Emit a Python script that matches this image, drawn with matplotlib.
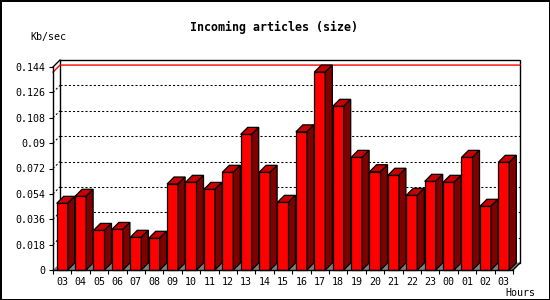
import matplotlib
matplotlib.use("Agg")
import matplotlib.pyplot as plt
from matplotlib.patches import Polygon, Rectangle

# ---- data ----
hours = ["03", "04", "05", "06", "07", "08", "09", "10", "11", "12", "13", "14", "15",
         "16", "17", "18", "19", "20", "21", "22", "23", "00", "01", "02", "03"]
values = [0.0473, 0.0523, 0.0281, 0.0288, 0.0232, 0.0225, 0.0610, 0.0622, 0.0572,
          0.0693, 0.0962, 0.0693, 0.0480, 0.0980, 0.1404, 0.1161, 0.0799, 0.0697,
          0.0672, 0.0530, 0.0629, 0.0622, 0.0799, 0.0452, 0.0764]
yticks = [0, 0.018, 0.036, 0.054, 0.072, 0.09, 0.108, 0.126, 0.144]
ytick_labels = ["0", "0.018", "0.036", "0.054", "0.072", "0.09", "0.108", "0.126", "0.144"]
title = "Incoming articles (size)"
ylabel = "Kb/sec"
xlabel = "Hours"

W, H = 550, 300
fig = plt.figure(figsize=(W / 100, H / 100), dpi=100)
fig.patch.set_facecolor("white")
fig.patch.set_edgecolor("black")
fig.patch.set_linewidth(2)

left_px, right_px, bottom_px, top_px = 53, 513, 270, 67
ax = fig.add_axes([left_px / W, (H - bottom_px) / H,
                   (right_px - left_px) / W, (bottom_px - top_px) / H])
n = len(values)
ymax = yticks[-1]
ax.set_xlim(-0.5, n - 0.5)
ax.set_ylim(0, ymax)
for s in ax.spines.values():
    s.set_visible(False)
ax.patch.set_visible(False)

slot_px = (right_px - left_px) / n
depth_px = 7
dx = depth_px / slot_px
dy = depth_px / (bottom_px - top_px) * ymax
x0, x1 = -0.5, n - 0.5

mono = "DejaVu Sans Mono"

# back plane
ax.add_patch(Rectangle((x0 + dx, dy), x1 - x0, ymax, facecolor="white",
                       edgecolor="black", lw=1, zorder=0, clip_on=False))
# gridlines on back plane + diagonal dotted connectors
for t in yticks[1:-1]:
    ax.plot([x0 + dx, x1 + dx], [t + dy, t + dy], color="black", lw=0.75,
            linestyle=(0, (2, 2)), zorder=1, clip_on=False)
    ax.plot([x0, x0 + dx], [t, t + dy], color="black", lw=0.75,
            linestyle=(0, (2, 2)), zorder=1, clip_on=False)
# floor
ax.add_patch(Polygon([(x0, 0), (x1, 0), (x1 + dx, dy), (x0 + dx, dy)],
                     closed=True, facecolor="#808080", edgecolor="none",
                     zorder=1.5, clip_on=False))
# max line
vmax = max(values)
ax.plot([x0, x0 + dx, x1 + dx], [vmax, vmax + dy, vmax + dy], color="red",
        lw=1, zorder=1.8, clip_on=False)

# bars
bw = 0.6
for i, v in enumerate(values):
    l, r = i - bw / 2, i + bw / 2
    z = 3 + i * 0.01
    ax.add_patch(Rectangle((l, 0), bw, v, facecolor="#FF0000", edgecolor="black",
                           lw=0.9, zorder=z, clip_on=False))
    ax.add_patch(Polygon([(l, v), (r, v), (r + dx, v + dy), (l + dx, v + dy)],
                         closed=True, facecolor="#C80000", edgecolor="black",
                         lw=0.9, zorder=z, clip_on=False))
    ax.add_patch(Polygon([(r, 0), (r, v), (r + dx, v + dy), (r + dx, dy)],
                         closed=True, facecolor="#800000", edgecolor="black",
                         lw=0.9, zorder=z, clip_on=False))

# front axes lines
ax.plot([x0, x0], [0, ymax], color="black", lw=1, zorder=5, clip_on=False)
ax.plot([x0, x1], [0, 0], color="black", lw=1, zorder=5, clip_on=False)
ax.plot([x0, x0 + dx], [ymax, ymax + dy], color="black", lw=1, zorder=5, clip_on=False)
ax.plot([x1, x1 + dx], [0, dy], color="black", lw=1, zorder=5, clip_on=False)

# ticks
ax.set_yticks(yticks)
ax.set_yticklabels(ytick_labels, family=mono, fontsize=7.2)
ax.tick_params(axis="y", direction="out", length=3, width=0.8, pad=2.5)
ax.set_xticks(range(n))
ax.set_xticklabels(hours, family=mono, fontsize=7.2)
ax.set_xticks([k - 0.5 for k in range(n + 1)], minor=True)
ax.tick_params(axis="x", which="major", length=0, pad=5)
ax.tick_params(axis="x", which="minor", direction="out", length=3, width=0.8)

fig.text(273.5 / W, 1 - 27 / H, title, ha="center", va="center",
         family=mono, fontweight="bold", fontsize=8.4)
fig.text(30 / W, 1 - 37 / H, ylabel, ha="left", va="center", family=mono, fontsize=7.2)
fig.text(505 / W, 1 - 292.5 / H, xlabel, ha="left", va="center", family=mono, fontsize=7.2)

fig.savefig("out.png", dpi=100, facecolor=fig.get_facecolor(), edgecolor=fig.get_edgecolor())
